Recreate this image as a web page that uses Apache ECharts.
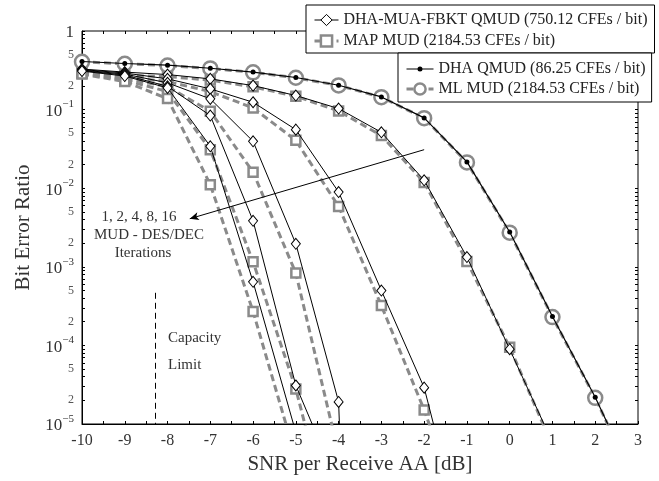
<!DOCTYPE html>
<html>
<head>
<meta charset="utf-8">
<title>BER vs SNR</title>
<script src="https://cdn.jsdelivr.net/npm/echarts@6/dist/echarts.min.js"></script>
<style>
  html, body { margin: 0; padding: 0; background: #fff; }
  #chart { width: 659px; height: 481px; }
</style>
</head>
<body>
<div id="chart"></div>
<script>
// SNR per receive AA [dB]
const snr = [-10, -9, -8, -7, -6, -5, -4, -3, -2, -1, 0, 1, 2, 3];

// non-iterative detectors
const dhaQmud = [0.409, 0.386, 0.367, 0.336, 0.300, 0.256, 0.204, 0.145, 0.0784, 0.0216, 0.00277, 2.33e-4, 2.19e-5, 1.5e-6];
const mlMud   = [0.405, 0.383, 0.364, 0.334, 0.298, 0.254, 0.203, 0.144, 0.0778, 0.0213, 0.00272, 2.29e-4, 2.15e-5, 1.5e-6];

// DHA-MUA-FBKT QMUD, 1 / 2 / 4 / 8 / 16 MUD - DES/DEC iterations
const fbkt1  = [0.328, 0.300, 0.279, 0.246, 0.202, 0.151, 0.103, 0.0514, 0.0126, 1.33e-3, 8.95e-5, 5.8e-6];
const fbkt2  = [0.323, 0.292, 0.246, 0.1835, 0.124, 0.0556, 8.94e-3, 4.99e-4, 2.9e-5, 2.2e-7];
const fbkt4  = [0.3185, 0.283, 0.219, 0.137, 0.0395, 1.96e-3, 1.91e-5, 1e-20];
const fbkt8  = [0.314, 0.275, 0.198, 0.0839, 3.85e-3, 3.09e-5, 1.6e-6];
const fbkt16 = [0.309, 0.267, 0.189, 0.0341, 6.44e-4, 7.8e-6];

// MAP MUD, 1 / 2 / 4 / 8 / 16 iterations
const map1  = [0.300, 0.271, 0.263, 0.2375, 0.1946, 0.1477, 0.0962, 0.0467, 0.01186, 1.168e-3, 9.49e-5, 5.3e-6];
const map2  = [0.296, 0.2596, 0.2274, 0.1695, 0.105, 0.0406, 5.86e-3, 3.21e-4, 1.51e-5, 4.5e-7];
const map4  = [0.2917, 0.2483, 0.1963, 0.0951, 0.016, 8.31e-4, 4.2e-6];
const map8  = [0.2874, 0.2375, 0.1695, 0.0309, 1.158e-3, 2.79e-5, 2.1e-7];
const map16 = [0.2833, 0.2274, 0.138, 0.0111, 2.70e-4, 3.7e-6];

// annotations (data coordinates)
const capacityLimit = [[-8.286, 4.67e-4], [-8.286, 1e-5]];
const iterArrow = [[-2.0, 0.0309], [-7.48, 4.09e-3]];

// axis ticks
const xTicks = [-10, -9, -8, -7, -6, -5, -4, -3, -2, -1, 0, 1, 2, 3];
const yDecades = [-5, -4, -3, -2, -1, 0];
const yLabelMantissas = [1, 2, 5];
const yTickMantissas = [1, 2, 3, 4, 5, 6, 7, 8, 9];

const NAME_FBKT = 'DHA-MUA-FBKT QMUD (750.12 CFEs / bit)';
const NAME_MAP = 'MAP MUD (2184.53 CFEs / bit)';
const NAME_DHA = 'DHA QMUD (86.25 CFEs / bit)';
const NAME_ML = 'ML MUD (2184.53 CFEs / bit)';

const FONT = 'Liberation Serif';
const TXT = '#333';
const GRAY = '#8a8a8a';

// legend icon for the DHA QMUD entry: thin line with a small dot
// (tiny corner squares pin the icon box to 27x14 so nothing gets rescaled)
const DHA_ICON = 'path://M0,0h0.01v0.01h-0.01z M26.99,13.99h0.01v0.01h-0.01z M0,6.5h27v1h-27z M16,7a2.5,2.5 0 1,1 -5,0a2.5,2.5 0 1,1 5,0z';

function pairs(vals) {
  return vals.map((v, i) => [snr[i], v]);
}

function logPositions(mantissas) {
  const out = [];
  yDecades.forEach(d => mantissas.forEach(m => {
    const p = d + Math.log10(m);
    if (p <= 1e-9) out.push(p);
  }));
  return out;
}

function yLabel(v) {
  const r = Math.round(v);
  if (Math.abs(v - r) < 1e-6) {
    if (r === 0) return '{b|1}';
    return '{b|10}{e|\u2212' + (-r) + '}';
  }
  const m = Math.round(Math.pow(10, v - Math.floor(v)));
  return '{m|' + m + '}';
}

const fbktStyle = {
  type: 'line', xAxisIndex: 0, yAxisIndex: 0, name: NAME_FBKT,
  symbol: 'diamond', symbolSize: [9, 11],
  lineStyle: { color: '#000', width: 1 },
  itemStyle: { color: '#fff', borderColor: '#000', borderWidth: 1 },
  z: 4
};
const mapStyle = {
  type: 'line', xAxisIndex: 0, yAxisIndex: 0, name: NAME_MAP,
  symbol: 'rect', symbolSize: 9,
  lineStyle: { color: GRAY, width: 3, type: [7, 4] },
  itemStyle: { color: '#fff', borderColor: GRAY, borderWidth: 2.5 },
  z: 3
};

const series = [];
[map1, map2, map4, map8, map16].forEach(d => series.push(Object.assign({}, mapStyle, { data: pairs(d) })));
series.push({
  type: 'line', name: NAME_ML, xAxisIndex: 0, yAxisIndex: 0,
  data: pairs(mlMud),
  symbol: 'circle', symbolSize: 14,
  lineStyle: { color: GRAY, width: 3, type: [7, 4] },
  itemStyle: { color: '#fff', borderColor: GRAY, borderWidth: 2.5 },
  z: 3,
  markLine: {
    silent: true, animation: false,
    label: { show: false },
    data: [
      [{ coord: capacityLimit[0], symbol: 'none' }, { coord: capacityLimit[1], symbol: 'none',
        lineStyle: { color: '#000', width: 1, type: [6, 4] } }],
      [{ coord: iterArrow[0], symbol: 'none' }, { coord: iterArrow[1], symbol: 'arrow', symbolSize: [6, 9],
        lineStyle: { color: '#000', width: 1, type: 'solid' } }]
    ],
    lineStyle: { color: '#000', width: 1 }
  }
});
[fbkt1, fbkt2, fbkt4, fbkt8, fbkt16].forEach(d => series.push(Object.assign({}, fbktStyle, { data: pairs(d) })));
series.push({
  type: 'line', name: NAME_DHA, xAxisIndex: 0, yAxisIndex: 0,
  data: pairs(dhaQmud),
  symbol: 'circle', symbolSize: 5,
  lineStyle: { color: '#000', width: 1.2 },
  itemStyle: { color: '#000' },
  z: 5
});

const legendBase = {
  orient: 'vertical',
  backgroundColor: '#fff',
  borderColor: '#000',
  borderWidth: 1,
  itemHeight: 14,
  selectedMode: false,
  lineStyle: { width: 'inherit' },
  itemStyle: { borderWidth: 'inherit' },
  textStyle: { fontFamily: FONT, fontSize: 16, color: '#222' },
  z: 10
};

const chart = echarts.init(document.getElementById('chart'), null, { renderer: 'canvas' });
chart.setOption({
  animation: false,
  backgroundColor: '#fff',
  grid: { left: 82, right: 21, top: 31, bottom: 57, show: true, borderColor: '#000', borderWidth: 1, backgroundColor: 'transparent' },
  legend: [
    Object.assign({}, legendBase, {
      left: 306, top: 5, itemWidth: 24, itemGap: 5, padding: [7, 7, 4, 7],
      data: [NAME_FBKT, NAME_MAP]
    }),
    Object.assign({}, legendBase, {
      left: 398, top: 53, itemWidth: 27, itemGap: 4, padding: [8, 6, 5, 7],
      data: [{ name: NAME_DHA, icon: DHA_ICON }, NAME_ML]
    })
  ],
  xAxis: [
    {
      type: 'value', min: -10, max: 3, interval: 1, position: 'bottom',
      name: 'SNR per Receive AA [dB]', nameLocation: 'middle', nameGap: 30,
      nameTextStyle: { fontFamily: FONT, fontSize: 21, color: TXT },
      axisLine: { onZero: false, lineStyle: { color: '#000', width: 1 } },
      axisTick: { inside: true, length: 3, lineStyle: { color: '#000' } },
      minorTick: { show: true, splitNumber: 2, length: 3, lineStyle: { color: '#000' } },
      axisLabel: { customValues: xTicks, margin: 9, fontFamily: FONT, fontSize: 16, color: TXT },
      splitLine: { show: false }
    },
    {
      type: 'value', min: -10, max: 3, interval: 1, position: 'top',
      axisLine: { onZero: false, show: false },
      axisTick: { inside: true, length: 3, lineStyle: { color: '#000' } },
      minorTick: { show: true, splitNumber: 2, length: 3, lineStyle: { color: '#000' } },
      axisLabel: { show: false },
      splitLine: { show: false }
    }
  ],
  yAxis: [
    {
      type: 'log', logBase: 10, min: 1e-5, max: 1, position: 'left',
      axisLine: { show: false, onZero: false },
      axisTick: { show: false },
      axisLabel: { show: false },
      splitLine: { show: false }
    },
    {
      type: 'value', min: -5, max: 0, position: 'left',
      name: 'Bit Error Ratio', nameLocation: 'middle', nameGap: 46,
      nameTextStyle: { fontFamily: FONT, fontSize: 21, color: TXT },
      axisLine: { show: true, onZero: false, lineStyle: { color: '#000', width: 1 } },
      axisTick: { inside: true, length: 3, customValues: logPositions(yTickMantissas), lineStyle: { color: '#000' } },
      axisLabel: {
        customValues: logPositions(yLabelMantissas), margin: 8, formatter: yLabel,
        rich: {
          b: { fontFamily: FONT, fontSize: 17, color: TXT, lineHeight: 21, verticalAlign: 'bottom' },
          e: { fontFamily: FONT, fontSize: 11, color: TXT, lineHeight: 11, verticalAlign: 'top' },
          m: { fontFamily: FONT, fontSize: 12, color: '#555' }
        }
      },
      splitLine: { show: false }
    },
    {
      type: 'value', min: -5, max: 0, position: 'right',
      axisLine: { show: false, onZero: false },
      axisTick: { inside: true, length: 3, customValues: logPositions(yTickMantissas), lineStyle: { color: '#000' } },
      axisLabel: { show: false },
      splitLine: { show: false }
    }
  ],
  graphic: [
    { type: 'text', style: { text: '1, 2, 4, 8, 16', x: 139, y: 217, align: 'center', verticalAlign: 'middle', fontFamily: FONT, fontSize: 15, fill: TXT } },
    { type: 'text', style: { text: 'MUD - DES/DEC', x: 149, y: 235, align: 'center', verticalAlign: 'middle', fontFamily: FONT, fontSize: 15, fill: TXT } },
    { type: 'text', style: { text: 'Iterations', x: 143, y: 253, align: 'center', verticalAlign: 'middle', fontFamily: FONT, fontSize: 15, fill: TXT } },
    { type: 'text', style: { text: 'Capacity', x: 168, y: 338, align: 'left', verticalAlign: 'middle', fontFamily: FONT, fontSize: 15, fill: TXT } },
    { type: 'text', style: { text: 'Limit', x: 168, y: 365, align: 'left', verticalAlign: 'middle', fontFamily: FONT, fontSize: 15, fill: TXT } }
  ],
  series: series
});
</script>
</body>
</html>
